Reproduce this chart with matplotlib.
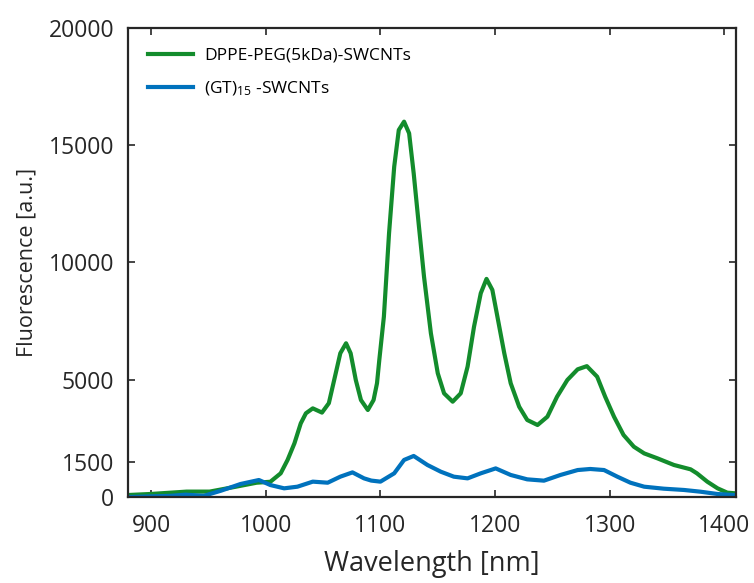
import matplotlib
matplotlib.use('Agg')
import matplotlib.pyplot as plt

plt.rcParams['font.family'] = ['Open Sans', 'DejaVu Sans']
plt.rcParams['mathtext.fontset'] = 'custom'
plt.rcParams['mathtext.rm'] = 'Open Sans'
plt.rcParams['mathtext.it'] = 'Open Sans'

# Green curve: DPPE-PEG(5kDa)-SWCNTs
wl_peg = [880, 900, 931, 951, 974, 992, 1004, 1013, 1019, 1025, 1030.5, 1035, 1041, 1049,
          1055, 1061, 1065, 1070, 1074, 1078.5, 1083, 1089, 1094, 1097, 1099, 1103, 1107.5,
          1112, 1116, 1120.6, 1125, 1129, 1133.6, 1138, 1144, 1150, 1155.5, 1163, 1170,
          1176, 1181.6, 1187.5, 1192.5, 1197.6, 1202, 1208, 1213.6, 1221, 1228, 1237,
          1245.6, 1254, 1263, 1272, 1280, 1289, 1296, 1303.7, 1312, 1321, 1330, 1341.5,
          1356, 1370.5, 1376, 1385, 1394, 1402.5, 1410]
fl_peg = [85, 130, 230, 230, 440, 610, 650, 1010, 1580, 2290, 3140, 3570, 3780, 3600,
          4000, 5275, 6130, 6555, 6130, 4990, 4135, 3710, 4135, 4850, 5840, 7690, 11245,
          14085, 15650, 16005, 15510, 13800, 11525, 9395, 6980, 5275, 4420, 4065, 4420,
          5560, 7260, 8690, 9300, 8830, 7690, 6130, 4850, 3850, 3285, 3070,
          3425, 4275, 4990, 5445, 5580, 5130, 4275, 3425, 2645, 2145, 1860, 1650,
          1365, 1180, 1010, 655, 370, 185, 155]

# Blue curve: (GT)15-SWCNTs
wl_gt = [880, 917, 930, 946, 961, 978, 994, 1004, 1016, 1027.6, 1041, 1054, 1065, 1075.6,
         1085.7, 1092, 1100, 1112, 1120.6, 1129, 1141, 1152.6, 1164, 1176, 1187.5, 1200.5,
         1213.6, 1228, 1242.6, 1257, 1272, 1283, 1295, 1306.6, 1318, 1330, 1347, 1364.7,
         1379, 1394, 1408]
fl_gt = [0, 50, 100, 50, 270, 555, 725, 510, 370, 440, 655, 610, 867, 1050,
         795, 700, 655, 1010, 1580, 1750, 1365, 1080, 867, 795, 1010, 1220,
         940, 753, 697, 940, 1150, 1195, 1150, 867, 610, 440, 355, 300,
         227, 128, 85]

x_ticks = [900, 1000, 1100, 1200, 1300, 1400]
y_ticks = [0, 1500, 5000, 10000, 15000, 20000]

fig = plt.figure(figsize=(7.54, 5.83), dpi=100)
ax = fig.add_axes([0.170, 0.1475, 0.806, 0.8045])

ax.plot(wl_peg, fl_peg, color='#138c2c', linewidth=3.0, label='DPPE-PEG(5kDa)-SWCNTs')
ax.plot(wl_gt, fl_gt, color='#0072bd', linewidth=3.0, label=r'(GT)$_{15}$ -SWCNTs')

ax.set_xlim(880, 1410)
ax.set_ylim(0, 20000)
ax.set_xticks(x_ticks)
ax.set_yticks(y_ticks)
ax.tick_params(direction='in', top=True, right=True, length=5, width=1.2,
               labelsize=16.5, colors='#262626')
ax.tick_params(axis='x', pad=12)
ax.tick_params(axis='y', pad=10)
for s in ax.spines.values():
    s.set_linewidth(1.6)
    s.set_color('#262626')

ax.set_xlabel('Wavelength [nm]', fontsize=19.5, color='#262626', labelpad=9)
ax.set_ylabel('Fluorescence [a.u.]', fontsize=15.5, color='#262626', labelpad=8)

ax.legend(loc='upper left', bbox_to_anchor=(0.033, 0.958), frameon=False,
          fontsize=12.5, handlelength=2.6, handletextpad=0.63,
          borderaxespad=0, borderpad=0, labelspacing=0.9)

plt.savefig('out.png', dpi=100)
